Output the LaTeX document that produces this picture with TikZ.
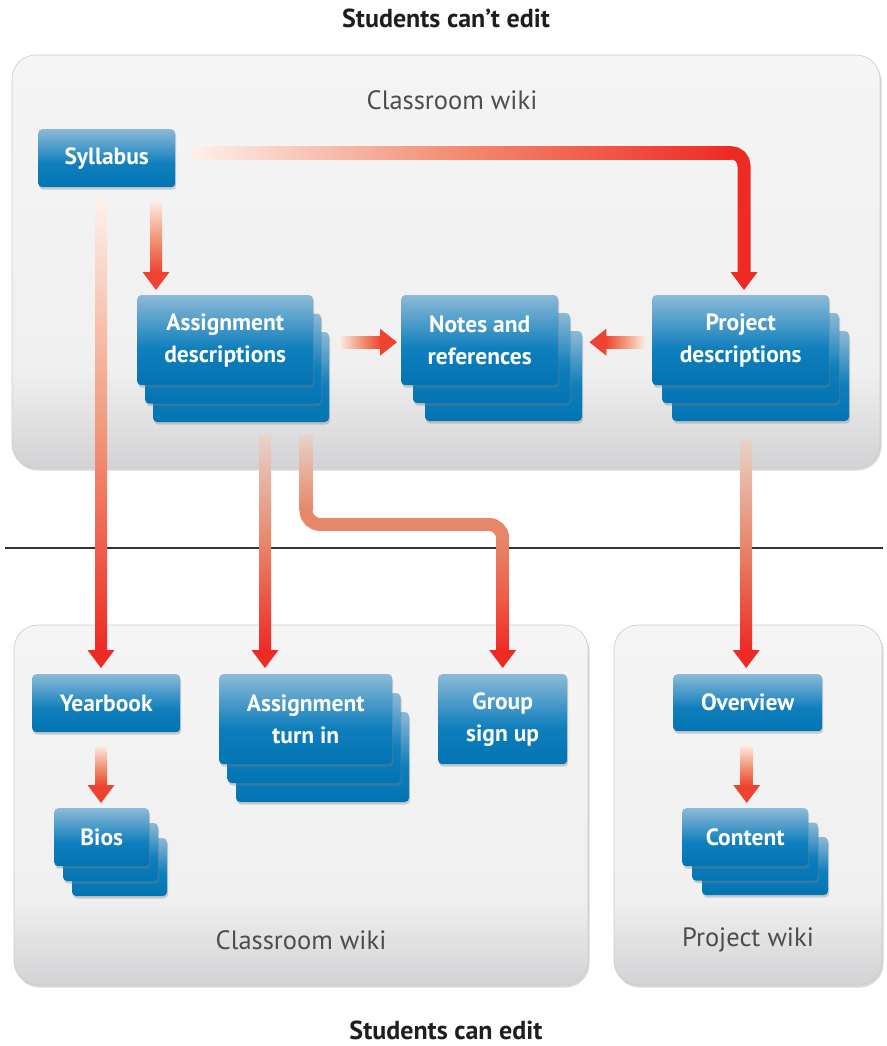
\documentclass[tikz,border=0pt]{standalone}
\usepackage{fontspec}
\setmainfont{PT Sans}
\usetikzlibrary{shadows,calc}
\definecolor{ctop}{HTML}{8CBAD7}
\definecolor{cmid}{HTML}{0E7EBC}
\definecolor{cbot}{HTML}{0374B3}
\definecolor{ptop}{HTML}{F5F5F5}
\definecolor{pmid}{HTML}{F0F0F1}
\definecolor{pbot}{HTML}{D3D3D5}
\definecolor{ared}{HTML}{EE2A24}
\definecolor{apale}{HTML}{FDF1EB}
\definecolor{amid}{HTML}{F29A7C}
\definecolor{agray}{HTML}{E8D2C8}
\definecolor{asal}{HTML}{E8866A}
\definecolor{ahead}{HTML}{EE4330}
\definecolor{titlegray}{HTML}{4D4D4D}
\definecolor{headblack}{HTML}{1E1E1E}
\pgfdeclareverticalshading{cardsh}{100bp}{color(0bp)=(cbot); color(25bp)=(cbot); color(45bp)=(cmid); color(75bp)=(ctop); color(100bp)=(ctop)}
\pgfdeclareverticalshading{panelsh}{100bp}{color(0bp)=(pbot); color(25bp)=(pbot); color(37bp)=(pmid); color(75bp)=(ptop); color(100bp)=(ptop)}
\newcommand\cardfont{\bfseries\fontsize{23.5}{32}\selectfont}
\tikzset{
  panel/.style={shade, shading=panelsh, rounded corners=24pt, draw=black!20, line width=0.6pt,
    drop shadow={opacity=0.3, shadow xshift=1.5pt, shadow yshift=-2.5pt}},
  paneltitle/.style={text=titlegray, font=\fontsize{26.5}{30}\selectfont, inner sep=0pt},
  headline/.style={text=headblack, font=\bfseries\fontsize{26}{30}\selectfont, inner sep=0pt},
  card/.style={shade, shading=cardsh, rounded corners=4pt, anchor=north west, inner sep=0pt,
    text=white, align=center, font=\cardfont,
    drop shadow={opacity=0.35, shadow xshift=1pt, shadow yshift=-2.5pt}},
  cardbg/.style={shade, shading=cardsh, rounded corners=4pt,
    drop shadow={opacity=0.35, shadow xshift=1pt, shadow yshift=-2.5pt}},
  sepline/.style={draw=black!80, line width=1.1pt}
}
% two back cards of a stack: x, y, w, h, dx, dy
\newcommand\backcards[6]{%
  \path[cardbg] ({#1+2*#5},{#2+2*#6}) rectangle ++(#3,#4);
  \path[cardbg] ({#1+#5},{#2+#6}) rectangle ++(#3,#4);}
% vertical gradient arrow: start, tip, top colour, middle colour, bottom colour
\newcommand\gdarrow[5]{%
  \path[top color=#3, bottom color=#5, middle color=#4] let \p1=(#1), \p2=(#2) in
    (\x1-6pt,\y1) rectangle (\x1+6pt,\y2+17pt);
  \path[fill=#5] let \p1=(#1), \p2=(#2) in
    (\x1-13.5pt,\y2+18pt) -- (\x1+13.5pt,\y2+18pt) -- (\x1,\y2) -- cycle;}
% rightward gradient arrow
\newcommand\grarrow[5]{%
  \path[left color=#3, right color=#5, middle color=#4] let \p1=(#1), \p2=(#2) in
    (\x1,\y1-6pt) rectangle (\x2-16pt,\y1+6pt);
  \path[fill=#5] let \p1=(#1), \p2=(#2) in
    (\x2-17pt,\y1-13.5pt) -- (\x2-17pt,\y1+13.5pt) -- (\x2,\y1) -- cycle;}
% leftward gradient arrow
\newcommand\glarrow[5]{%
  \path[right color=#3, left color=#5, middle color=#4] let \p1=(#1), \p2=(#2) in
    (\x1,\y1-6pt) rectangle (\x2+16pt,\y1+6pt);
  \path[fill=#5] let \p1=(#1), \p2=(#2) in
    (\x2+17pt,\y1-13.5pt) -- (\x2+17pt,\y1+13.5pt) -- (\x2,\y1) -- cycle;}

\begin{document}
\begin{tikzpicture}[x=1pt,y=-1pt]
\useasboundingbox (0,0) rectangle (886,1046);
\fill[white] (0,0) rectangle (886,1046);

% headings
\node[headline] (hTop) at (446,18) {Students can’t edit};
\node[headline] (hBot) at (446,1030) {Students can edit};

% panels
\path[panel] (12,55) rectangle (880,468);
\path[panel] (14,625) rectangle (588,985);
\path[panel] (614,625) rectangle (882,985);
\node[paneltitle] (tTop) at (452,100) {Classroom wiki};
\node[paneltitle] (tBL) at (301,940) {Classroom wiki};
\node[paneltitle] (tBR) at (748,940) {Project wiki};

% separator
\coordinate (sepL) at (5,548);
\coordinate (sepR) at (883,548);
\draw[sepline] (sepL) -- (sepR);

% cards, top panel
\node[card, minimum width=137pt, minimum height=58pt] (syl) at (38,129) {Syllabus};
\backcards{137}{295}{176}{90}{8}{18.5}
\node[card, minimum width=176pt, minimum height=90pt] (ad) at (137,295) {Assignment\\descriptions};
\backcards{401}{295}{157}{90}{12}{18}
\node[card, minimum width=157pt, minimum height=90pt] (nr) at (401,295) {Notes and\\references};
\backcards{652}{295}{177}{90}{10}{18}
\node[card, minimum width=177pt, minimum height=90pt] (pd) at (652,295) {Project\\descriptions};

% cards, bottom left panel
\node[card, minimum width=148pt, minimum height=58pt] (yb) at (32,674) {Yearbook};
\backcards{54}{808}{95}{58}{9}{15}
\node[card, minimum width=95pt, minimum height=58pt] (bios) at (54,808) {Bios};
\backcards{219}{674}{173}{90}{8.5}{19}
\node[card, minimum width=173pt, minimum height=90pt] (ati) at (219,674) {Assignment\\turn in};
\node[card, minimum width=129pt, minimum height=90pt] (gsu) at (438,674) {Group\\sign up};

% cards, bottom right panel
\node[card, minimum width=149pt, minimum height=57pt] (ov) at (673,674) {Overview};
\backcards{682}{808}{126}{58}{10}{14.5}
\node[card, minimum width=126pt, minimum height=58pt] (ct) at (682,808) {Content};

% connector end points
\coordinate (sylYb) at ($(syl.south west)+(63,12)$);
\coordinate (ybTop) at ($(yb.north)+(0,-6)$);
\coordinate (sylAd) at ($(syl.south west)+(118,12)$);
\coordinate (adTop) at ($(ad.north west)+(19,-5)$);
\coordinate (sylPd) at ($(syl.east)+(15,-5.5)$);
\coordinate (pdCorner) at ($(pd.north west)+(92,-142.5)$);
\coordinate (pdTop) at ($(pd.north west)+(92,-5)$);
\coordinate (adNr) at ($(ad.east)+(25,2)$);
\coordinate (nrLeft) at ($(nr.west)+(-4,2)$);
\coordinate (pdNr) at ($(pd.west)+(-6,2)$);
\coordinate (nrRight) at ($(nr.east)+(31,2)$);
\coordinate (adAti) at ($(ad.south west)+(128,50)$);
\coordinate (atiTop) at ($(ati.north west)+(46,-6)$);
\coordinate (adGsu) at ($(ad.south west)+(169,50)$);
\coordinate (gsuTop) at ($(gsu.north)+(0,-6)$);
\coordinate (pdOv) at ($(pd.south)+(5.5,55)$);
\coordinate (ovTop) at ($(ov.north)+(-1.5,-6)$);
\coordinate (ybBios) at ($(yb.south west)+(69,12)$);
\coordinate (biosTop) at ($(bios.north)+(0,-5)$);
\coordinate (ovCt) at ($(ov.south)+(-1,13)$);
\coordinate (ctTop) at ($(ct.north)+(0,-5)$);

% connectors
\gdarrow{sylYb}{ybTop}{apale}{amid}{ared}
\gdarrow{sylAd}{adTop}{apale}{amid}{ahead}
% Syllabus -> Project descriptions
\path[left color=apale, right color=ared, middle color=amid!90!red]
  let \p1=(sylPd), \p2=(pdCorner) in (\x1,\y1-6.5pt) rectangle (\x2-12pt,\y1+6.5pt);
\draw[ared, line width=13pt, rounded corners=13pt]
  let \p1=(sylPd), \p2=(pdCorner), \p3=(pdTop) in (\x2-20pt,\y1) -| (\x3,\y3+16pt);
\path[fill=ared] let \p1=(pdTop) in
  (\x1-13.5pt,\y1+18pt) -- (\x1+13.5pt,\y1+18pt) -- (\x1,\y1) -- cycle;

\grarrow{adNr}{nrLeft}{apale}{amid}{ahead}
\glarrow{pdNr}{nrRight}{apale}{amid}{ahead}

\gdarrow{adAti}{atiTop}{agray}{asal}{ared}
% Assignment descriptions -> Group sign up
\coordinate (gsuBend) at ($(adGsu)+(0,89)$);
\path[top color=agray, bottom color=asal]
  let \p1=(adGsu), \p2=(gsuBend) in (\x1-6.5pt,\y1) rectangle (\x1+6.5pt,\y2+14pt);
\draw[asal, line width=13pt, rounded corners=14pt]
  let \p1=(adGsu), \p2=(gsuBend), \p3=(gsuTop) in
  (\x1,\y2+16pt) |- (\x3,\y2) -- (\x3,\y2-16pt);
\coordinate (gsuDown) at ($(gsuTop|-gsuBend)+(0,14)$);
\gdarrow{gsuDown}{gsuTop}{asal}{asal!70!red}{ared}

\gdarrow{pdOv}{ovTop}{agray}{asal}{ared}
\gdarrow{ybBios}{biosTop}{apale}{amid}{ahead}
\gdarrow{ovCt}{ctTop}{apale}{amid}{ahead}
\end{tikzpicture}
\end{document}
